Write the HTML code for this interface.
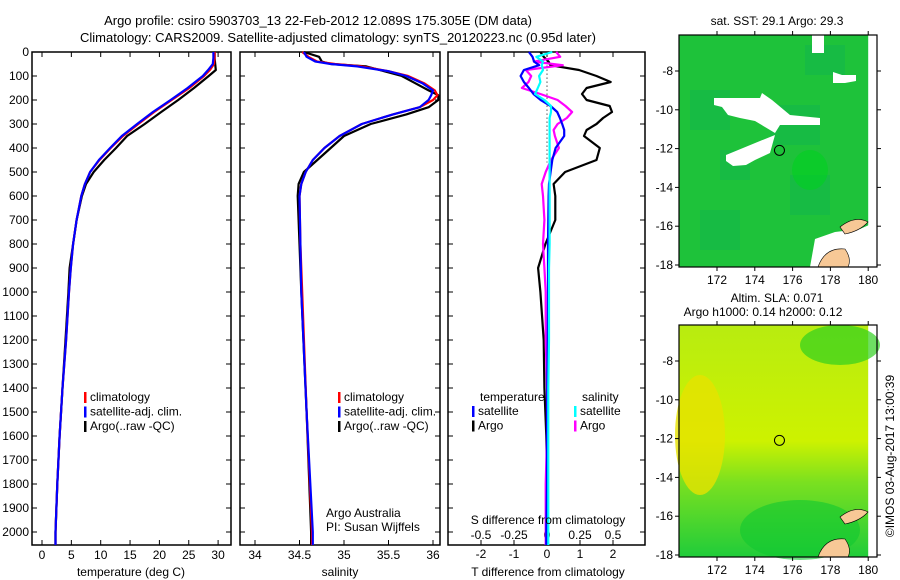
<!DOCTYPE html>
<html><head><meta charset="utf-8">
<style>
html,body{margin:0;padding:0;background:#fff;}
svg{display:block;font-family:"Liberation Sans",sans-serif;}
text{font-size:12px;fill:#000;}
</style></head>
<body>
<svg id="fig" width="900" height="580" viewBox="0 0 900 580" xmlns="http://www.w3.org/2000/svg">
<text x="318" y="25" text-anchor="middle" style="font-size:13px">Argo profile: csiro 5903703_13 22-Feb-2012 12.089S 175.305E (DM data)</text>
<text x="338" y="42" text-anchor="middle" style="font-size:13px">Climatology: CARS2009. Satellite-adjusted climatology: synTS_20120223.nc (0.95d later)</text>
<g id="p1"></g>
<g id="p2"></g>
<g id="p3"></g>
<g id="m1"></g>
<g id="m2"></g>
<text transform="translate(894,456) rotate(-90)" text-anchor="middle">©IMOS 03-Aug-2017 13:00:39</text>
</svg>
<script>
// ---- data ----
const tDepths = [0,25,50,75,100,150,200,250,300,350,400,450,500,550,600,700,800,900,1000,1200,1400,1600,1800,2000,2054];
const tempClim = [29.4,29.4,29.3,28.6,27.6,25.1,22.1,19.1,16.4,13.8,11.7,9.8,8.2,7.3,6.7,5.9,5.3,4.9,4.6,4.1,3.5,3.0,2.6,2.3,2.3];
const tempSat = [29.2,29.2,29.1,28.3,27.4,24.8,21.9,18.9,16.2,13.6,11.6,9.7,8.2,7.3,6.7,5.9,5.3,4.9,4.6,4.1,3.5,3.0,2.6,2.3,2.3];
const tempArgo = [29.4,29.4,29.5,29.6,28.4,25.9,23.2,20.3,17.5,14.5,12.6,10.6,8.8,7.5,6.8,5.9,5.3,4.7,4.5,4.0,3.5,3.0,2.6,2.3,2.3];
const sDepths = [0,20,40,50,60,80,100,130,160,180,200,230,260,300,350,400,450,500,550,600,800,1000,1500,2000,2054];
const salSat = [34.55,34.58,34.68,34.85,35.15,35.5,35.7,35.88,36.0,35.98,35.95,35.85,35.55,35.2,34.95,34.78,34.65,34.57,34.52,34.5,34.51,34.52,34.58,34.65,34.65];
const salClim = [34.53,34.6,34.7,34.9,35.2,35.5,35.72,35.9,36.02,36.05,36.0,35.85,35.55,35.2,34.95,34.78,34.65,34.57,34.52,34.5,34.51,34.53,34.58,34.64,34.64];
const salArgo = [34.55,34.72,34.75,34.85,35.25,35.45,35.65,35.8,35.95,36.06,36.06,35.95,35.7,35.3,35.0,34.85,34.7,34.55,34.49,34.48,34.5,34.52,34.58,34.63,34.63];
const dDepths = [0,20,40,55,75,100,125,150,175,200,225,250,275,300,325,350,400,450,500,550,600,700,800,900,1000,1200,1400,1600,1800,2000,2054];
const tDiffSat = [-0.55,-0.44,-0.39,-0.24,-0.7,-0.8,-0.7,-0.55,-0.41,-0.19,0.11,0.31,0.39,0.46,0.52,0.52,0.26,0.16,0.11,0.06,0.05,0.04,0.03,0.03,0.03,0.02,0.01,0,0,-0.02,-0.02];
const tDiffArgo = [-0.2,-0.1,0.05,0.1,0.97,1.5,1.93,1.2,1.06,1.2,1.9,1.97,1.7,1.5,1.2,1.12,1.6,1.5,0.55,0.2,0.25,0.25,-0.05,-0.27,-0.2,-0.1,-0.08,-0.02,0,0,0];
const sDiffSat = [0.04,-0.08,-0.03,-0.04,-0.03,-0.06,-0.05,-0.07,-0.09,-0.02,0.03,0.03,0.02,0.02,0.02,0.02,0.02,0.02,0.02,0.02,0.02,0.02,0.02,0.015,0.015,0.015,0.01,0.01,0.01,0.01,0.01];
const sDiffArgo = [0.07,0.1,-0.1,0.12,-0.16,-0.12,-0.14,-0.19,-0.05,0.08,0.14,0.19,0.15,0.08,0.05,0.06,0.09,0.03,-0.01,-0.04,-0.03,-0.02,-0.03,-0.02,-0.01,-0.01,0,0,-0.01,-0.01,-0.01];
const depthTicks = [0,100,200,300,400,500,600,700,800,900,1000,1100,1200,1300,1400,1500,1600,1700,1800,1900,2000];
const tempTicks = [0,5,10,15,20,25,30];
const salTicks = [34,34.5,35,35.5,36];
const tDiffTicks = [-2,-1,0,1,2];
const sDiffTicks = [-0.5,-0.25,0,0.25,0.5];
const lonTicks = [172,174,176,178,180];
const latTicks = [-8,-10,-12,-14,-16,-18];

const NS='http://www.w3.org/2000/svg';
function mk(tag,attrs,parent,txt){const e=document.createElementNS(NS,tag);for(const k in attrs)e.setAttribute(k,attrs[k]);if(txt!==undefined)e.textContent=txt;parent.appendChild(e);return e;}
const TOP=52,BOT=545;
const yD=d=>TOP+d*0.24;

function box(g,x0,x1,y0,y1){
  const r=mk('rect',{x:x0,y:y0,width:x1-x0,height:y1-y0,fill:'none',stroke:'#000','stroke-width':1.5},g);
  
}
function line(g,xs,ds,xf,color,name,w){
  const pts=ds.map((d,i)=>xf(xs[i]).toFixed(1)+','+yD(d).toFixed(1)).join(' ');
  const p=mk('polyline',{points:pts,fill:'none',stroke:color,'stroke-width':w||2.2,'stroke-linejoin':'round'},g);
  
}
function depthAxis(g,x0,x1,labels){
  depthTicks.forEach(d=>{
    const y=yD(d);
    mk('line',{x1:x0,y1:y,x2:x0+5,y2:y,stroke:'#000'},g);
    mk('line',{x1:x1,y1:y,x2:x1-5,y2:y,stroke:'#000'},g);
    if(labels){const t=mk('text',{x:x0-3,y:y+4,'text-anchor':'end'},g,String(d));
      }
  });
}
function xAxis(g,ticks,xf,y0,y1,ly,fmt){
  ticks.forEach(v=>{const x=xf(v);
    mk('line',{x1:x,y1:y1,x2:x,y2:y1-5,stroke:'#000'},g);
    mk('line',{x1:x,y1:y0,x2:x,y2:y0+5,stroke:'#000'},g);
    if(ly){const t=mk('text',{x:x,y:ly,'text-anchor':'middle'},g,fmt?fmt(v):String(v));
      }
  });
}
function legend(g,x,y,items){
  items.forEach((it,i)=>{
    mk('rect',{x:x,y:y+i*14.5-9,width:2.5,height:11,fill:it[1]},g);
    const t=mk('text',{x:x+6,y:y+i*14.5},g,it[0]);
    
  });
}
// Panel 1
(function(){
  const g=document.getElementById('p1');const x0=32,x1=231;
  const xf=v=>42+v*5.87;
  box(g,x0,x1,TOP,BOT);depthAxis(g,x0,x1,true);xAxis(g,tempTicks,xf,TOP,BOT,559);
  line(g,tempArgo,tDepths,xf,'#000','temperature-argo-line');
  line(g,tempClim,tDepths,xf,'#f00','temperature-climatology-line');
  line(g,tempSat,tDepths,xf,'#00f','temperature-satellite-line');
  const t=mk('text',{x:131,y:576,'text-anchor':'middle'},g,'temperature (deg C)');
  
  legend(g,84,401,[['climatology','#f00'],['satellite-adj. clim.','#00f'],['Argo(..raw -QC)','#000']]);
})();
// Panel 2
(function(){
  const g=document.getElementById('p2');const x0=240,x1=440;
  const xf=v=>255+(v-34)*89;
  box(g,x0,x1,TOP,BOT);depthAxis(g,x0,x1,false);xAxis(g,salTicks,xf,TOP,BOT,559);
  line(g,salArgo,sDepths,xf,'#000','salinity-argo-line');
  line(g,salClim,sDepths,xf,'#f00','salinity-climatology-line');
  line(g,salSat,sDepths,xf,'#00f','salinity-satellite-line');
  const t=mk('text',{x:340,y:576,'text-anchor':'middle'},g,'salinity');
  
  legend(g,338,401,[['climatology','#f00'],['satellite-adj. clim.','#00f'],['Argo(..raw -QC)','#000']]);
  const a=mk('text',{x:326,y:517},g,'Argo Australia');
  const b=mk('text',{x:326,y:531},g,'PI: Susan Wijffels');
})();
// Panel 3
(function(){
  const g=document.getElementById('p3');const x0=448,x1=645;
  const xt=v=>547+v*33, xs=v=>547+v*132;
  box(g,x0,x1,TOP,BOT);depthAxis(g,x0,x1,false);
  xAxis(g,tDiffTicks,xt,TOP,BOT,558);
  sDiffTicks.forEach(v=>{const x=xs(v);mk('line',{x1:x,y1:BOT,x2:x,y2:BOT-5,stroke:'#000'},g);
    const t=mk('text',{x:x,y:539,'text-anchor':'middle'},g,String(v));});
  mk('line',{x1:xt(0),y1:yD(40),x2:xt(0),y2:yD(460),stroke:'#000','stroke-dasharray':'1,3'},g);
  line(g,tDiffArgo,dDepths,xt,'#000','t-diff-argo-line');
  line(g,sDiffArgo,dDepths,xs,'#f0f','s-diff-argo-line');
  line(g,tDiffSat,dDepths,xt,'#00f','t-diff-satellite-line');
  line(g,sDiffSat,dDepths,xs,'#0ff','s-diff-satellite-line');
  const s=mk('text',{x:548,y:524,'text-anchor':'middle'},g,'S difference from climatology');
  const t=mk('text',{x:548,y:576,'text-anchor':'middle'},g,'T difference from climatology');
  const h1=mk('text',{x:480,y:401},g,'temperature');
  const h2=mk('text',{x:582,y:401},g,'salinity');
  legend(g,472,415,[['satellite','#00f'],['Argo','#000']]);
  legend(g,574,415,[['satellite','#0ff'],['Argo','#f0f']]);
})();
// Maps
function map(id,top,title,titleY,sla){
  const g=document.getElementById(id);const x0=679,x1=877,y0=top,y1=top+232;
  const xl=v=>717+(v-172)*18.9;
  const yy=v=>top+36+(-8-v)*19.4;
  mk('rect',{x:x0,y:y0,width:x1-x0,height:y1-y0,fill:'#fff'},g);
  const defs=mk('defs',{},g);
  if(!sla){
    mk('rect',{x:x0,y:y0,width:xl(180)-x0,height:y1-y0,fill:'#1ec23a'},g);
    [[690,90,40,40],[770,105,50,40],[700,210,40,40],[790,175,40,40],[805,45,40,30],[720,150,30,30]].forEach(r=>mk('rect',{x:r[0],y:top-35+r[1],width:r[2],height:r[3],fill:'#0fb352',opacity:0.45},g));
    mk('ellipse',{cx:810,cy:top+135,rx:18,ry:20,fill:'#00d020',opacity:0.6},g);
    mk('path',{d:`M714 ${top+63} L760 ${top+63} L762 ${top+58} L772 ${top+65} L790 ${top+80} L820 ${top+83} L820 ${top+90} L780 ${top+90} L775 ${top+98} L755 ${top+86} L740 ${top+83} L728 ${top+80} L722 ${top+72} L714 ${top+70} Z`,fill:'#fff'},g);
    mk('path',{d:`M726 ${top+120} L760 ${top+106} L775 ${top+100} L770 ${top+118} L755 ${top+125} L746 ${top+130} L733 ${top+131} L726 ${top+126} Z`,fill:'#fff'},g);
    mk('path',{d:`M833 ${top+37} L842 ${top+40} L856 ${top+40} L856 ${top+46} L845 ${top+48} L833 ${top+48} Z`,fill:'#fff'},g);
    mk('rect',{x:812,y:top,width:12,height:18,fill:'#fff'},g);
    mk('path',{d:`M810 ${y1} L815 ${y1-28} L835 ${y1-35} L860 ${y1-38} L869 ${y1-42} L869 ${y1} Z`,fill:'#fff'},g);
  } else {
    const lg=mk('linearGradient',{id:'slag',x1:0,y1:0,x2:0,y2:1},defs);
    mk('stop',{offset:'0','stop-color':'#b8ec10'},lg);mk('stop',{offset:'0.5','stop-color':'#cdf200'},lg);
    mk('stop',{offset:'0.68','stop-color':'#7ae020'},lg);mk('stop',{offset:'1','stop-color':'#20cc3a'},lg);
    mk('rect',{x:x0,y:y0,width:xl(180)-x0,height:y1-y0,fill:'url(#slag)'},g);
    mk('ellipse',{cx:700,cy:top+110,rx:25,ry:60,fill:'#e6e200',opacity:0.8},g);
    mk('ellipse',{cx:840,cy:top+20,rx:40,ry:20,fill:'#30d020',opacity:0.7},g);
    mk('ellipse',{cx:800,cy:top+205,rx:60,ry:30,fill:'#10c830',opacity:0.6},g);
  }
  mk('path',{d:`M818 ${y1} Q825 ${y1-20} 845 ${y1-18} Q852 ${y1-8} 848 ${y1} Z`,fill:'#f7c896',stroke:'#000','stroke-width':0.6},g);
  mk('path',{d:`M840 ${y1-40} Q855 ${y1-52} 868 ${y1-45} Q860 ${y1-36} 845 ${y1-33} Z`,fill:'#f7c896',stroke:'#000','stroke-width':0.6},g);
  mk('rect',{x:x0,y:y0,width:x1-x0,height:y1-y0,fill:'none',stroke:'#000','stroke-width':1.2},g);
  lonTicks.forEach(v=>{const x=xl(v);mk('line',{x1:x,y1:y1,x2:x,y2:y1+4,stroke:'#000'},g);mk('line',{x1:x,y1:y0,x2:x,y2:y0-4,stroke:'#000'},g);
    const t=mk('text',{x:x,y:y1+17,'text-anchor':'middle'},g,String(v));});
  latTicks.forEach(v=>{const y=yy(v);mk('line',{x1:x0,y1:y,x2:x0-4,y2:y,stroke:'#000'},g);mk('line',{x1:x1,y1:y,x2:x1+4,y2:y,stroke:'#000'},g);
    const t=mk('text',{x:x0-6,y:y+4,'text-anchor':'end'},g,String(v));});
  const c=mk('circle',{cx:xl(175.305),cy:yy(-12.089),r:5,fill:'none',stroke:'#000'},g);
  
  title.forEach((s,i)=>{const t=mk('text',{x:i==1?763:777,y:titleY[i],'text-anchor':'middle'},g,s);
    });
}
map('m1',35,['sat. SST: 29.1 Argo: 29.3'],[25],false);
map('m2',325,['Altim. SLA: 0.071','Argo h1000: 0.14 h2000: 0.12'],[302,316],true);
</script>
</body></html>
